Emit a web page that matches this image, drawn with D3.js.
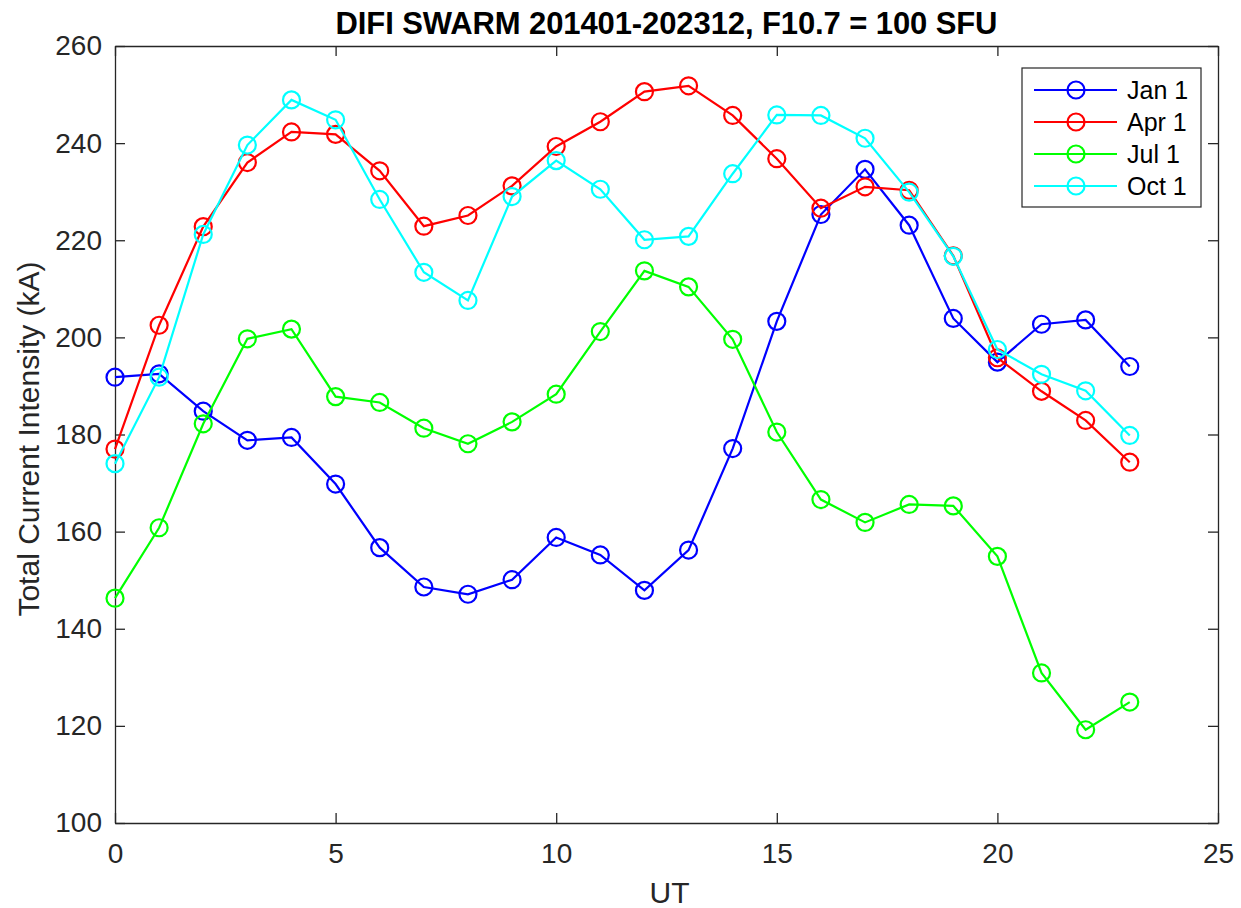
<!DOCTYPE html>
<html><head><meta charset="utf-8">
<script src="https://cdn.jsdelivr.net/npm/d3@7"></script>
<style>body{margin:0;background:#fff;} svg{display:block;font-family:"Liberation Sans",Arial,sans-serif;}</style>
</head><body>
<svg id="c" width="1241" height="908"></svg>
<script>
const hours = d3.range(0, 24);
const jan1 = [191.8,192.5,184.8,178.8,179.4,169.8,156.7,148.6,147.1,150.1,158.8,155.2,147.9,156.2,177.1,203.3,225.3,234.6,223.1,203.9,194.9,202.7,203.6,194.0];
const apr1 = [177.0,202.5,222.8,236.0,242.3,241.8,234.3,222.9,225.1,231.2,239.3,244.4,250.6,251.8,245.7,236.8,226.6,231.0,230.3,216.8,195.8,188.9,182.9,174.3];
const jul1 = [146.3,160.8,182.2,199.7,201.7,187.8,186.6,181.3,178.1,182.6,188.3,201.2,213.7,210.4,199.6,180.5,166.6,161.9,165.6,165.3,154.9,130.9,119.2,124.9];
const oct1 = [174.0,191.8,221.2,239.6,248.9,244.8,228.4,213.4,207.6,229.0,236.4,230.5,220.1,220.8,233.7,245.8,245.7,241.0,229.9,216.7,197.5,192.4,189.0,179.8];
const seriesNames = ["Jan 1","Apr 1","Jul 1","Oct 1"];
const seriesColors = ["#0000ff","#ff0000","#00ff00","#00ffff"];
const xTicks = [0,5,10,15,20,25];
const yTicks = [100,120,140,160,180,200,220,240,260];
const titleText = "DIFI SWARM 201401-202312, F10.7 = 100 SFU";

const svg = d3.select("#c");
const L=115, R=1218, T=46, B=823;
const x = d3.scaleLinear().domain([0,25]).range([L,R]);
const y = d3.scaleLinear().domain([100,260]).range([B,T]);
const axisCol = "#262626";

// axes
const gx = svg.append("g").attr("transform",`translate(0,${B})`)
  .call(d3.axisBottom(x).tickValues(xTicks).tickSizeInner(-10).tickSizeOuter(0).tickPadding(20));
const gxt = svg.append("g").attr("transform",`translate(0,${T})`)
  .call(d3.axisTop(x).tickValues(xTicks).tickSizeInner(-10).tickSizeOuter(0).tickFormat(""));
const gy = svg.append("g").attr("transform",`translate(${L},0)`)
  .call(d3.axisLeft(y).tickValues(yTicks).tickSizeInner(-10).tickSizeOuter(0).tickPadding(13));
const gyr = svg.append("g").attr("transform",`translate(${R},0)`)
  .call(d3.axisRight(y).tickValues(yTicks).tickSizeInner(-10).tickSizeOuter(0).tickFormat(""));
[gx,gxt,gy,gyr].forEach(g=>{
  g.selectAll("path").attr("stroke",axisCol).attr("stroke-width",1.3);
  g.selectAll("line").attr("stroke",axisCol).attr("stroke-width",1.3);
  g.selectAll("text").attr("fill",axisCol).style("font-size","28px").style("font-family","Liberation Sans, Arial, sans-serif");
});

// data lines
const all = [jan1,apr1,jul1,oct1];
const line = d3.line().x((d,i)=>x(hours[i])).y(d=>y(d));
all.forEach((vals,k)=>{
  svg.append("path").datum(vals).attr("d",line).attr("fill","none")
    .attr("stroke",seriesColors[k]).attr("stroke-width",2.2);
  svg.append("g").selectAll("circle").data(vals).join("circle")
    .attr("cx",(d,i)=>x(hours[i])).attr("cy",d=>y(d)).attr("r",8.5)
    .attr("fill","none").attr("stroke",seriesColors[k]).attr("stroke-width",2.2);
});

// labels
svg.append("text").attr("x",(L+R)/2).attr("y",34).attr("text-anchor","middle")
  .attr("font-weight","bold").style("font-size","31px").attr("fill","#000")
  .attr("textLength",662).attr("lengthAdjust","spacing").text(titleText);
svg.append("text").attr("x",(L+R)/2+3).attr("y",903).attr("text-anchor","middle")
  .style("font-size","30px").attr("fill",axisCol).text("UT");
svg.append("text").attr("transform",`translate(39,439) rotate(-90)`).attr("text-anchor","middle")
  .style("font-size","30px").attr("fill",axisCol).text("Total Current Intensity (kA)");

// legend
const lg = svg.append("g");
lg.append("rect").attr("x",1022).attr("y",68).attr("width",179).attr("height",139)
  .attr("fill","#fff").attr("stroke",axisCol).attr("stroke-width",1.2);
seriesNames.forEach((n,k)=>{
  const yy = 90 + k*32;
  lg.append("line").attr("x1",1034).attr("x2",1117).attr("y1",yy).attr("y2",yy)
    .attr("stroke",seriesColors[k]).attr("stroke-width",2.2);
  lg.append("circle").attr("cx",1076).attr("cy",yy).attr("r",8.5).attr("fill","none")
    .attr("stroke",seriesColors[k]).attr("stroke-width",2.2);
  lg.append("text").attr("x",1127).attr("y",yy+9).style("font-size","25px").attr("fill","#000").text(n);
});
</script>
</body></html>
